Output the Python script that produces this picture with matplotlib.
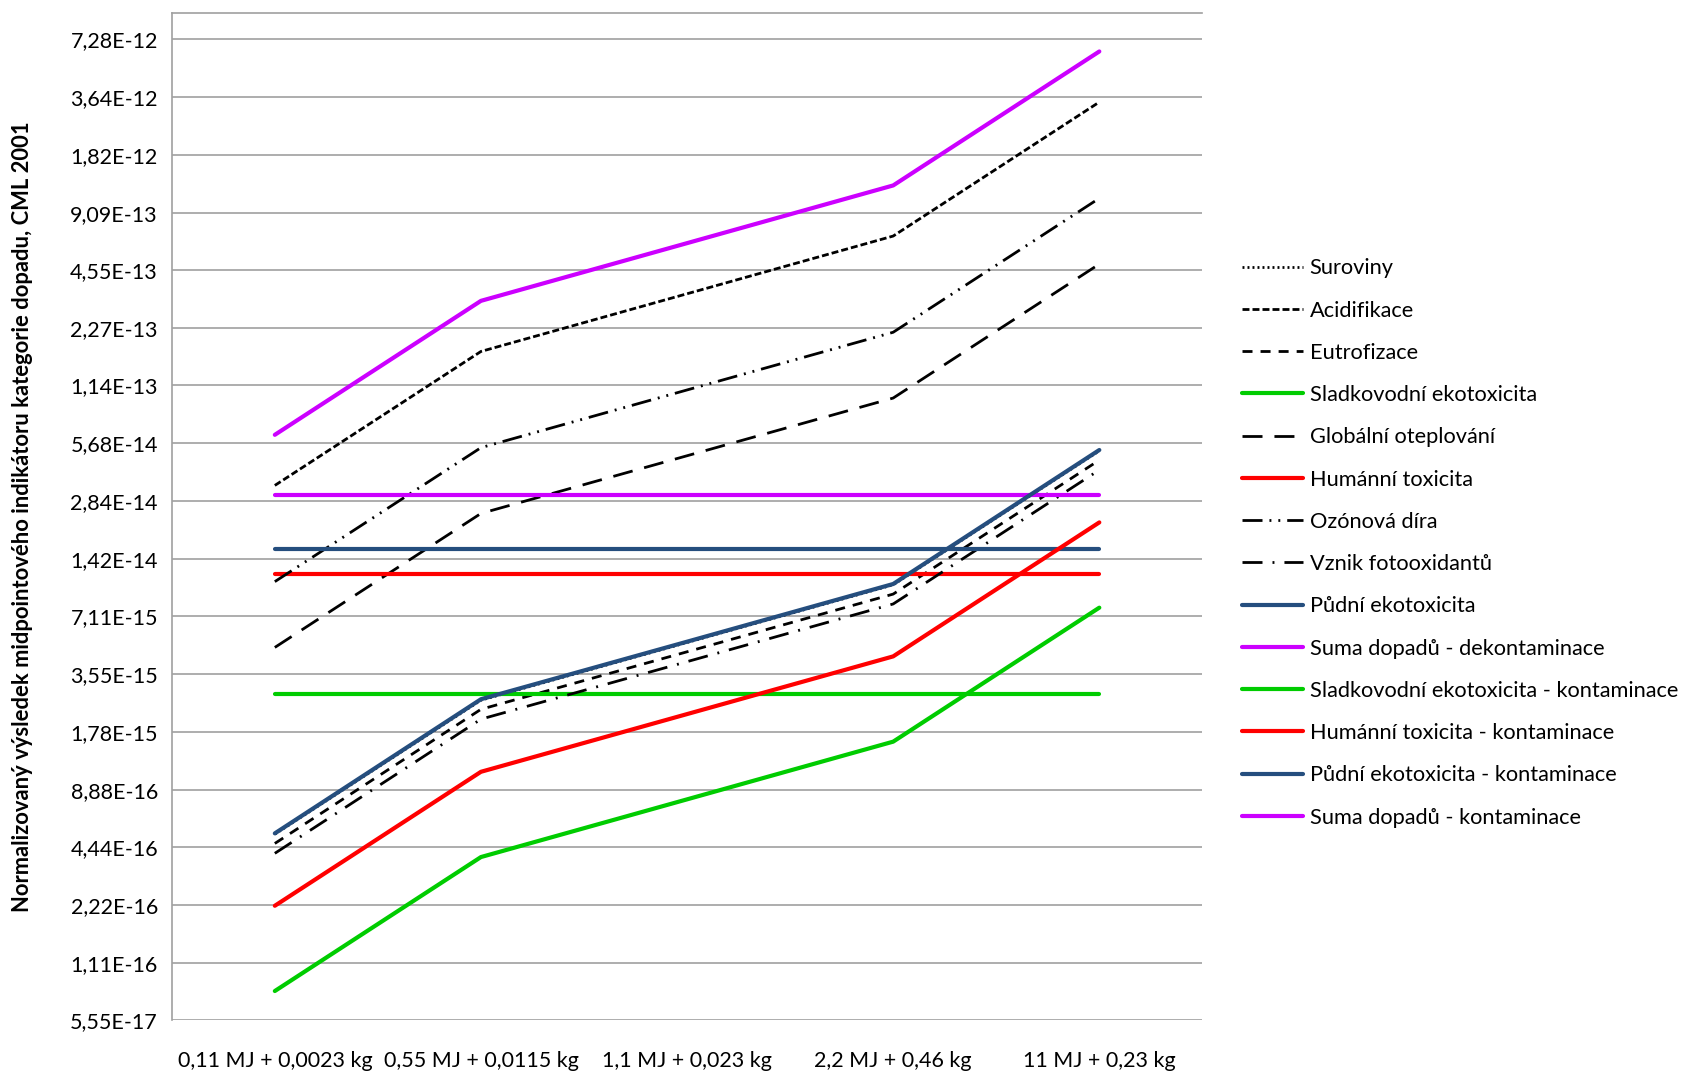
import matplotlib
matplotlib.use("Agg")
import matplotlib.pyplot as plt
from matplotlib.ticker import FixedLocator, NullLocator

plt.rcParams['font.family'] = ['Lato', 'DejaVu Sans']

categories = ["0,11 MJ + 0,0023 kg", "0,55 MJ + 0,0115 kg", "1,1 MJ + 0,023 kg",
              "2,2 MJ + 0,46 kg", "11 MJ + 0,23 kg"]

suroviny = [5.2e-16, 2.6e-15, 5.2e-15, 1.04e-14, 5.2e-14]
acidifikace = [3.43e-14, 1.715e-13, 3.43e-13, 6.86e-13, 3.43e-12]
eutrofizace = [4.65e-16, 2.33e-15, 4.65e-15, 9.3e-15, 4.65e-14]
sladkovodni = [2.81e-15, 2.81e-15, 2.81e-15, 2.81e-15, 2.81e-15]
globalni = [4.9e-15, 2.45e-14, 4.9e-14, 9.8e-14, 4.9e-13]
humanni = [1.19e-14, 1.19e-14, 1.19e-14, 1.19e-14, 1.19e-14]
ozonova = [1.08e-14, 5.4e-14, 1.08e-13, 2.16e-13, 1.08e-12]
vznik = [4.13e-16, 2.07e-15, 4.13e-15, 8.26e-15, 4.13e-14]
pudni = [1.60e-14, 1.60e-14, 1.60e-14, 1.60e-14, 1.60e-14]
suma_dekont = [3.06e-14, 3.06e-14, 3.06e-14, 3.06e-14, 3.06e-14]
sladkovodni_kont = [7.9e-17, 3.95e-16, 7.9e-16, 1.58e-15, 7.9e-15]
humanni_kont = [2.2e-16, 1.1e-15, 2.2e-15, 4.4e-15, 2.2e-14]
pudni_kont = [5.25e-16, 2.63e-15, 5.25e-15, 1.05e-14, 5.25e-14]
suma_kont = [6.3e-14, 3.15e-13, 6.3e-13, 1.26e-12, 6.3e-12]

ytick_values = [5.55e-17, 1.11e-16, 2.22e-16, 4.44e-16, 8.88e-16, 1.78e-15, 3.55e-15,
                7.11e-15, 1.42e-14, 2.84e-14, 5.68e-14, 1.14e-13, 2.27e-13, 4.55e-13,
                9.09e-13, 1.82e-12, 3.64e-12, 7.28e-12]
ytick_labels = ["5,55E-17", "1,11E-16", "2,22E-16", "4,44E-16", "8,88E-16", "1,78E-15",
                "3,55E-15", "7,11E-15", "1,42E-14", "2,84E-14", "5,68E-14", "1,14E-13",
                "2,27E-13", "4,55E-13", "9,09E-13", "1,82E-12", "3,64E-12", "7,28E-12"]

GREEN = "#00CC00"
RED = "#FF0000"
BLUE = "#254E7E"
MAGENTA = "#CC00FF"
BLACK = "#000000"

series = [
    ("Suroviny", suroviny, BLACK, 2.0, (0, (0.7, 1.1))),
    ("Acidifikace", acidifikace, BLACK, 2.0, (0, (2.5, 1.1))),
    ("Eutrofizace", eutrofizace, BLACK, 2.0, (0, (3.6, 2.9))),
    ("Sladkovodní ekotoxicita", sladkovodni, GREEN, 3.0, '-'),
    ("Globální oteplování", globalni, BLACK, 2.0, (0, (7.2, 4.3))),
    ("Humánní toxicita", humanni, RED, 3.0, '-'),
    ("Ozónová díra", ozonova, BLACK, 2.0, (0, (7.2, 2.5, 0.7, 2.5, 0.7, 2.5))),
    ("Vznik fotooxidantů", vznik, BLACK, 2.0, (0, (7.2, 3.6, 0.7, 3.6))),
    ("Půdní ekotoxicita", pudni, BLUE, 3.0, '-'),
    ("Suma dopadů - dekontaminace", suma_dekont, MAGENTA, 3.0, '-'),
    ("Sladkovodní ekotoxicita - kontaminace", sladkovodni_kont, GREEN, 3.0, '-'),
    ("Humánní toxicita - kontaminace", humanni_kont, RED, 3.0, '-'),
    ("Půdní ekotoxicita - kontaminace", pudni_kont, BLUE, 3.0, '-'),
    ("Suma dopadů - kontaminace", suma_kont, MAGENTA, 3.0, '-'),
]

fig = plt.figure(figsize=(16.84, 10.73), dpi=100)
ax = fig.add_axes([0.102, 0.049, 0.612, 0.939])

x = list(range(len(categories)))
for name, vals, color, lw, ls in series:
    ax.plot(x, vals, color=color, lw=lw, linestyle=ls, label=name,
            solid_capstyle='round', dash_capstyle='butt')

ax.set_yscale('log', base=2)
ax.set_ylim(5.55e-17, 7.28e-12 * 2 ** 0.46)
ax.set_xlim(-0.5, 4.5)
ax.yaxis.set_major_locator(FixedLocator(ytick_values))
ax.yaxis.set_minor_locator(NullLocator())
ax.set_yticks(ytick_values)
ax.set_yticklabels(ytick_labels)
ax.set_xticks(x)
ax.set_xticklabels(categories)
ax.tick_params(axis='both', length=0, labelsize=15.5, colors='#000000')
ax.tick_params(axis='y', pad=10)
ax.tick_params(axis='x', pad=22)
ax.grid(axis='y', color='#A0A0A0', lw=1.2)
ax.set_axisbelow(True)
for s in ['right', 'bottom']:
    ax.spines[s].set_visible(False)
ax.spines['left'].set_color('#A0A0A0')
ax.spines['top'].set_color('#A0A0A0')
ax.spines['left'].set_linewidth(1.2)
ax.spines['top'].set_linewidth(1.2)

fig.text(0.0134, 0.5185,
         "Normalizovaný výsledek midpointového indikátoru kategorie dopadu, CML 2001",
         fontsize=15.8, fontweight='bold', rotation=90, ha='center', va='center')

fig.legend(loc='center left', bbox_to_anchor=(0.731, 0.494), frameon=False,
           fontsize=15.7, handlelength=2.8, labelspacing=1.02, borderpad=0,
           handletextpad=0.3)

fig.savefig("out.png", dpi=100)
